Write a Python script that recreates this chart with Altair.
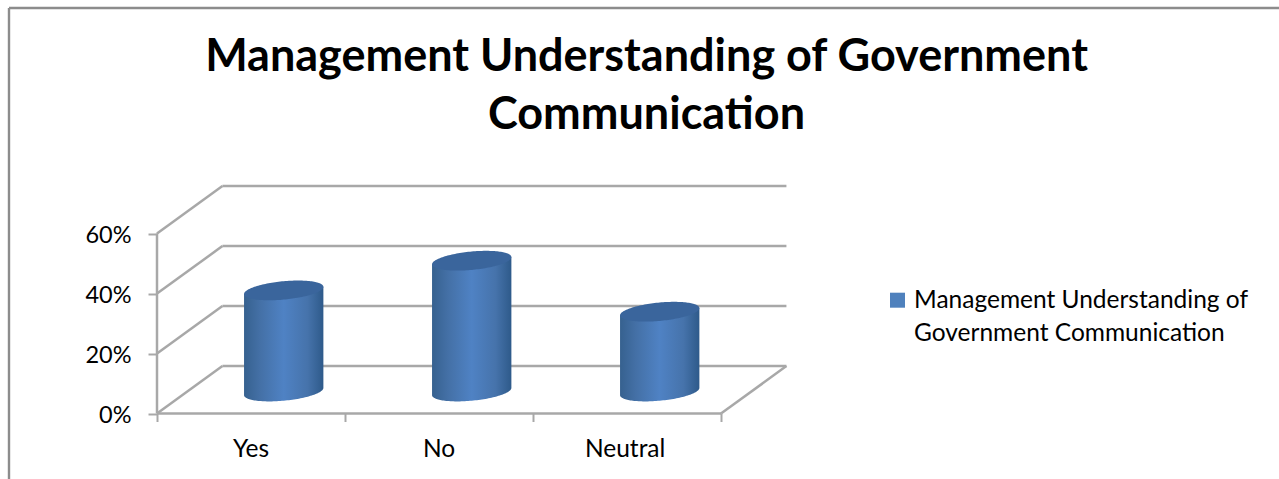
import altair as alt
import numpy as np
import pandas as pd

# Chart content
title_lines = ["Management Understanding of Government", "Communication"]
categories = ["Yes", "No", "Neutral"]
shares = [0.337, 0.436, 0.266]
legend_lines = ["Management Understanding of", "Government Communication"]
y_ticks = [0.0, 0.2, 0.4, 0.6]
x_ticks = [0, 1, 2, 3]

# Oblique projection of the 3D box, in data units
DEPTH_X = 0.348
DEPTH_Y = 0.158
BASE_Y = 0.0733
CYL_A = 0.211
CYL_B = 0.0307
CYL_TILT = 0.012

GRID = "#A8A8A8"
FONT = "Lato"
TEXT_SIZE = 24.5

x_scale = alt.Scale(domain=[0, 631 / 188], range=[0, 631], nice=False, zero=False)
y_scale = alt.Scale(domain=[0, 0.765], range=[229.5, 0], nice=False, zero=False)
x_axis = alt.Axis(
    values=x_ticks, labels=False, title=None, domain=False, grid=False,
    ticks=True, tickSize=8, tickWidth=2, tickColor=GRID,
)
y_axis = alt.Axis(
    values=y_ticks, format=".0%", title=None, domain=False, grid=False,
    ticks=True, tickSize=9, tickWidth=2, tickColor=GRID,
    labelFont=FONT, labelFontSize=23.5, labelColor="#000000", labelPadding=17, labelOffset=1.5,
)

# Wall, floor and axis line segments
segments = []


def add_segment(name, a, b):
    for pos, val, depth in (a, b):
        segments.append({"id": name, "x": pos + depth * DEPTH_X, "y": val + depth * DEPTH_Y})


for v in y_ticks:
    add_segment(f"back{v}", (0, v, 1), (3, v, 1))
    add_segment(f"side{v}", (0, v, 0), (0, v, 1))
add_segment("floor-right", (3, 0, 0), (3, 0, 1))
add_segment("floor-front", (0, 0, 0), (3, 0, 0))
add_segment("value-axis", (0, 0, 0), (0, 0.6, 0))
segments_df = pd.DataFrame(segments)

# Cylinder outlines sampled along the major axis of the elliptical caps
u = np.cos(np.linspace(np.pi, 0, 73))
rows = []
for i, (cat, share) in enumerate(zip(categories, shares)):
    cx = i + 0.5 + DEPTH_X / 2
    top = BASE_Y + share
    for t in u:
        s = np.sqrt(max(0.0, 1 - t * t))
        rows.append(
            {
                "cat": cat,
                "x": cx + CYL_A * t,
                "body_hi": top + CYL_TILT * t,
                "body_lo": BASE_Y + CYL_TILT * t - CYL_B * s,
                "cap_hi": top + CYL_TILT * t + CYL_B * s,
                "cap_lo": top + CYL_TILT * t - CYL_B * s,
            }
        )
cyl_df = pd.DataFrame(rows)


def x_q(field):
    return alt.X(field, type="quantitative", scale=x_scale, axis=x_axis)


def y_q(field):
    return alt.Y(field, type="quantitative", scale=y_scale, axis=y_axis)


lines = (
    alt.Chart(segments_df)
    .mark_line(color=GRID, strokeWidth=2.5, clip=False)
    .encode(x=x_q("x"), y=y_q("y"), detail="id:N")
)

body_fill = alt.Gradient(
    gradient="linear",
    x1=0, x2=1, y1=0, y2=0,
    stops=[
        alt.GradientStop(offset=0, color="#36618F"),
        alt.GradientStop(offset=0.2, color="#4470A6"),
        alt.GradientStop(offset=0.5, color="#4F82C4"),
        alt.GradientStop(offset=0.8, color="#4673AB"),
        alt.GradientStop(offset=1, color="#2E5A8A"),
    ],
)
bodies = (
    alt.Chart(cyl_df)
    .mark_area(color=body_fill, clip=False)
    .encode(x=x_q("x"), y=y_q("body_hi"), y2="body_lo:Q", detail="cat:N")
)
caps = (
    alt.Chart(cyl_df)
    .mark_area(color="#3A659C", clip=False)
    .encode(x=x_q("x"), y=y_q("cap_hi"), y2="cap_lo:Q", detail="cat:N")
)

cat_labels = (
    alt.Chart(pd.DataFrame({"cat": categories, "x": [0.5, 1.5, 2.49], "y": [0, 0, 0]}))
    .mark_text(font=FONT, fontSize=TEXT_SIZE, color="#000000", dy=36, baseline="middle")
    .encode(x=x_q("x"), y=y_q("y"), text="cat:N")
)

# Chart frame: only the top and left edges are inside the canvas
frame_top = (
    alt.Chart(pd.DataFrame({"a": [0]}))
    .mark_rule(color="#8C8C8C", strokeWidth=2.4)
    .encode(x=alt.value(-148), x2=alt.value(1122), y=alt.value(-176))
)
frame_left = (
    alt.Chart(pd.DataFrame({"a": [0]}))
    .mark_rule(color="#8C8C8C", strokeWidth=2.4)
    .encode(x=alt.value(-148), y=alt.value(-176), y2=alt.value(295))
)

# Legend entry
swatch = (
    alt.Chart(pd.DataFrame({"a": [0]}))
    .mark_square(size=225, color="#4F81BD", opacity=1)
    .encode(x=alt.value(740.5), y=alt.value(116.2))
)
legend_text = [
    alt.Chart(pd.DataFrame({"a": [0]}))
    .mark_text(text=line, font=FONT, fontSize=TEXT_SIZE, color="#000000", align="left", baseline="alphabetic")
    .encode(x=alt.value(757), y=alt.value(124 + i * 33))
    for i, line in enumerate(legend_lines)
]

chart = (
    alt.layer(lines, bodies, caps, cat_labels, frame_top, frame_left, swatch, *legend_text)
    .properties(
        width=631,
        height=229.5,
        background="#FFFFFF",
        padding={"left": 157, "top": 184, "right": 491, "bottom": 65.5},
        autosize=alt.AutoSizeParams(type="none"),
        title=alt.TitleParams(
            text=title_lines,
            font=FONT,
            fontSize=45,
            fontWeight="bold",
            color="#000000",
            anchor="middle",
            frame="group",
            dx=174,
            offset=-131,
            lineHeight=58,
        ),
    )
    .configure_view(stroke="transparent")
)

chart.save("out.html", embed_options={"renderer": "svg", "actions": False})
